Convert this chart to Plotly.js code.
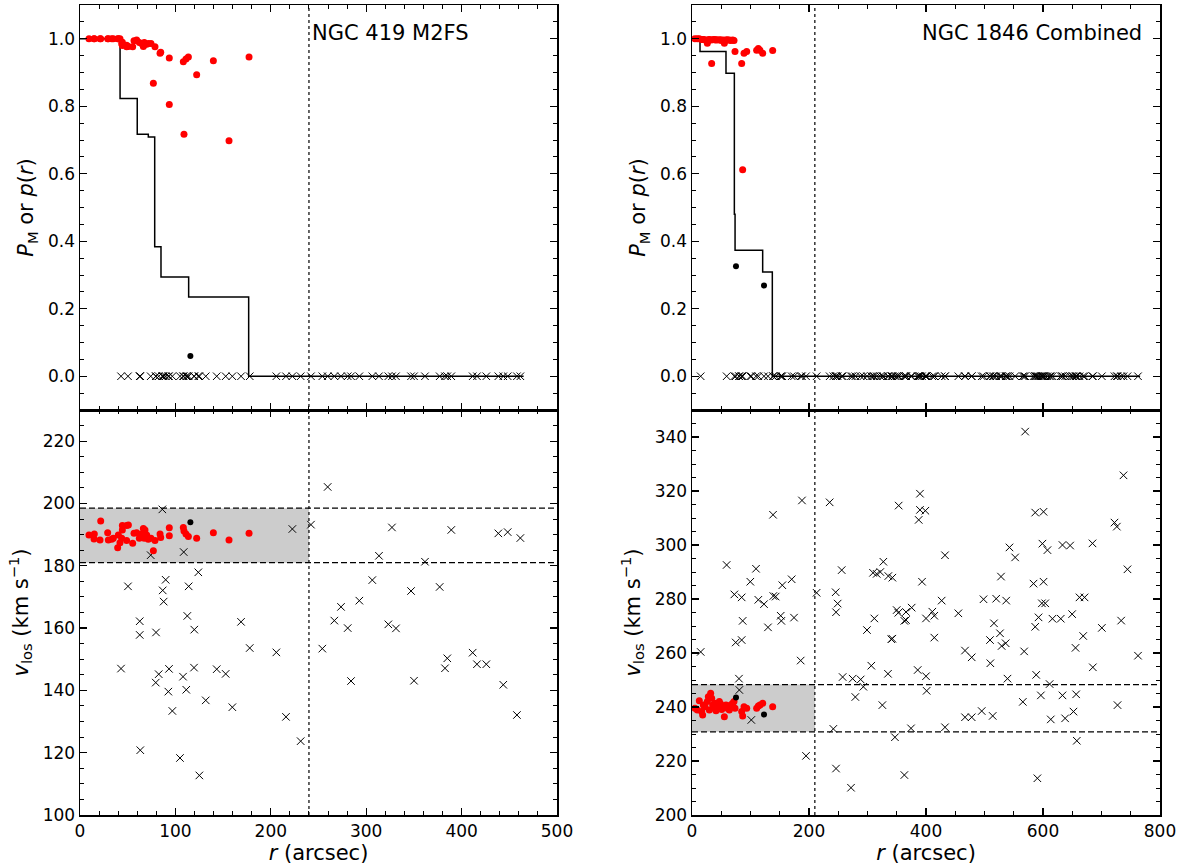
<!DOCTYPE html>
<html>
<head>
<meta charset="utf-8">
<script src="https://cdn.plot.ly/plotly-3.0.1.min.js"></script>
<style>html,body{margin:0;padding:0;background:#fff;}#plot{width:1189px;height:867px;}</style>
</head>
<body>
<div id="plot"></div>
<script>
// ---------------- NGC 419 M2FS ----------------
const n419_memR = [9.4,15.0,14.7,21.0,21.7,29.0,29.7,33.2,34.9,39.5,40.2,41.9,43.7,44.4,44.4,48.9,50.7,48.9,55.2,56.6,59.4,62.2,64.6,66.4,68.1,67.4,69.9,71.6,74.4,76.9,78.6,83.9,84.6,93.6,93.6,108.3,109.0,111.1,113.6,122.3,139.8,156.2,177.2];
const n419_memV = [189.9,190.2,188.6,188.3,194.4,190.6,188.3,188.5,188.8,185.8,189.9,187.4,188.8,191.5,192.9,192.9,193.1,188.1,187.2,190.4,190.6,188.8,190.2,192.0,191.5,188.8,189.9,188.5,188.8,184.8,188.1,190.2,189.1,192.2,189.6,192.3,191.2,190.2,189.4,188.8,190.6,188.3,190.4];
const n419_memP = [1.0,1.0,1.0,1.0,1.0,1.0,1.0,1.0,1.0,1.0,1.0,1.0,0.985,0.99,0.98,0.981,0.977,0.976,0.976,0.994,0.996,0.989,0.986,0.977,0.984,0.989,0.984,0.986,0.986,0.868,0.976,0.957,0.96,0.943,0.805,0.932,0.717,0.94,0.946,0.893,0.935,0.698,0.946];
const n419_blkR = [115.7];
const n419_blkV = [194.0];
const n419_blkP = [0.06];
const n419_nonR = [86.3,222.6,74.1,108.7,124.0,89.8,50.3,86.7,113.9,87.7,112.5,62.6,168.8,62.6,79.7,119.8,177.9,205.8,43.0,82.5,93.3,119.5,143.3,152.7,108.0,79.4,92.6,111.4,131.8,96.8,159.7,215.9,231.3,63.2,104.8,125.1,
  259.6,242.1,254.0,327.0,389.2,438.5,448.3,461.6,313.4,361.6,306.4,347.0,377.0,292.8,273.6,266.6,280.6,323.2,331.2,411.6,385.0,382.6,416.1,425.9,284.1,350.1,443.7,458.0];
const n419_nonV = [198.1,191.8,183.4,184.4,177.9,175.5,173.4,172.1,173.4,168.5,163.9,162.2,162.0,157.8,158.6,159.5,153.6,152.2,147.0,145.2,146.9,147.3,146.8,145.3,144.4,142.5,139.6,140.2,136.8,133.4,134.6,131.5,123.7,120.8,118.3,112.7,
  205.3,193.2,153.4,192.3,191.5,190.4,190.8,188.9,183.2,181.3,175.4,171.9,173.2,168.8,166.8,162.4,160.0,161.2,159.9,152.1,150.3,147.1,148.4,148.4,143.0,143.1,141.8,132.1];
const n419_stepR = [0,42,60,71.6,78.3,84.9,113.9,176.8,465];
const n419_stepP = [1.0,0.823,0.717,0.709,0.384,0.294,0.235,0.0,0.0];
const n419_band = [181.0,198.5];
const n419_rcut = 240;

// ---------------- NGC 1846 Combined ----------------
const n1846_memR = [5.1,9.1,12.5,16.5,18.2,19.4,22.2,26.2,27.9,29.6,31.9,33.6,35.3,37.6,39.3,41.0,43.3,46.7,49.0,50.7,53.6,55.3,58.1,60.4,63.8,66.1,69.5,71.8,73.5,84.9,86.6,88.9,93.5,110.5,113.4,116.2,120.8,137.9];
const n1846_memV = [239.5,238.9,242.3,238.3,237.0,240.7,240.1,242.0,243.8,238.9,245.1,243.2,240.7,239.5,241.4,238.6,240.1,242.0,241.1,239.1,240.1,236.4,240.7,239.5,238.9,240.7,241.4,242.0,239.5,238.3,236.7,240.1,239.5,239.5,240.4,240.7,241.4,240.1];
const n1846_memP = [1.0,1.0,1.0,0.998,0.998,0.998,0.997,0.987,0.997,0.998,0.996,0.927,0.997,0.998,0.997,0.996,0.997,0.996,0.997,0.995,0.996,0.987,0.996,0.997,0.996,0.995,0.996,0.995,0.962,0.927,0.612,0.957,0.962,0.966,0.971,0.966,0.957,0.965];
const n1846_blkR = [75.2,123.1];
const n1846_blkV = [243.5,237.2];
const n1846_blkP = [0.326,0.269];
const n1846_nonR = [14.8,59.2,109.4,99.7,72.4,84.9,113.4,123.1,139.0,143.0,154.4,170.4,138.5,188.0,235.3,213.0,245.6,249.0,246.2,255.9,86.6,74.7,84.9,129.9,151.6,152.7,174.4,185.8,80.3,80.9,101.4,194.9,241.6,246.2,271.8,257.5,274.6,288.3,292.9,279.2,306.5,299.1,311.7,309.4,315.7,321.9,327.1,335.6,342.5,353.3,335.0,325.4,346.9,363.0,374.4,340.7,342.5,349.9,352.7,363.0,365.8,365.8,375.5,387.5,389.7,389.7,398.9,393.2,385.8,400.0,400.0,401.1,
  432.5,426.8,410.8,414.2,414.2,455.3,432.5,466.7,478.1,495.2,466.7,478.1,514.0,498.3,520.0,537.1,510.0,509.4,516.2,526.5,529.3,536.2,528.2,539.3,542.7,552.4,565.5,567.8,569.5,583.8,600.9,586.7,600.9,598.1,603.8,592.4,586.7,588.4,596.4,611.3,590.4,599.0,607.6,613.3,637.8,652.1,633.3,656.7,657.8,616.2,630.4,649.8,668.7,655.6,633.3,646.4,684.6,662.4,671.0,685.2,700.6,722.2,726.2,737.6,744.4,733.6,727.4,762.4];
const n1846_nonV = [260.4,292.6,291.2,286.4,281.7,280.6,279.7,278.1,281.1,280.9,285.1,287.3,311.2,316.5,315.8,282.3,282.5,278.3,275.1,290.7,271.9,263.9,264.8,269.5,273.8,271.9,273.1,257.2,250.5,246.3,235.2,221.9,231.9,217.2,210.1,251.1,250.5,250.2,247.5,243.7,255.3,268.5,272.8,289.7,289.3,290.0,293.8,288.5,287.9,314.6,252.3,240.7,228.8,214.8,232.1,265.1,265.3,275.9,274.9,271.9,272.2,275.2,276.8,309.3,319.0,313.0,312.7,286.4,253.7,272.8,251.4,246.0,
  296.2,279.4,275.3,273.8,265.7,274.7,232.5,260.9,258.4,238.5,236.2,236.2,236.7,279.9,280.1,279.4,256.2,264.8,271.0,267.3,262.6,263.6,288.3,250.5,299.1,295.4,241.9,260.6,342.0,285.7,286.4,312.0,312.3,278.4,278.4,273.2,269.7,251.9,244.3,248.5,213.6,300.5,298.1,235.4,235.8,238.3,244.3,244.7,227.5,272.7,272.7,274.4,266.3,261.9,300.0,299.8,300.6,280.6,280.6,254.7,269.3,308.3,306.8,325.8,291.0,272.0,240.7,259.0];
const n1846_stepR = [0,13.7,58.1,72.4,73.6,120.8,137.3,766];
const n1846_stepP = [1.0,0.962,0.898,0.48,0.373,0.309,0.0,0.0];
const n1846_band = [230.8,248.3];
const n1846_rcut = 210;

// ---------------- traces ----------------
function panelTraces(xa, yaTop, yaBot, d) {
  const t = [];
  t.push({x: d.stepR, y: d.stepP, xaxis: xa[0], yaxis: yaTop, type: 'scatter', mode: 'lines',
    line: {color: 'black', width: 1.5, shape: 'hv'}, hoverinfo: 'skip'});
  t.push({x: d.nonR, y: d.nonR.map(() => 0), xaxis: xa[0], yaxis: yaTop, type: 'scatter', mode: 'markers',
    marker: {symbol: 'x-thin', size: 7.5, line: {color: 'black', width: 1}}});
  t.push({x: d.memR, y: d.memP, xaxis: xa[0], yaxis: yaTop, type: 'scatter', mode: 'markers',
    marker: {color: '#ff0000', size: 7}});
  t.push({x: d.blkR, y: d.blkP, xaxis: xa[0], yaxis: yaTop, type: 'scatter', mode: 'markers',
    marker: {color: 'black', size: 6}});
  t.push({x: d.nonR, y: d.nonV, xaxis: xa[1], yaxis: yaBot, type: 'scatter', mode: 'markers',
    marker: {symbol: 'x-thin', size: 7.5, line: {color: 'black', width: 1}}});
  t.push({x: d.memR, y: d.memV, xaxis: xa[1], yaxis: yaBot, type: 'scatter', mode: 'markers',
    marker: {color: '#ff0000', size: 7}});
  t.push({x: d.blkR, y: d.blkV, xaxis: xa[1], yaxis: yaBot, type: 'scatter', mode: 'markers',
    marker: {color: 'black', size: 6}});
  return t;
}
const data = [].concat(
  panelTraces(['x', 'x3'], 'y', 'y3', {stepR: n419_stepR, stepP: n419_stepP, nonR: n419_nonR, nonV: n419_nonV, memR: n419_memR, memV: n419_memV, memP: n419_memP, blkR: n419_blkR, blkV: n419_blkV, blkP: n419_blkP}),
  panelTraces(['x2', 'x4'], 'y2', 'y4', {stepR: n1846_stepR, stepP: n1846_stepP, nonR: n1846_nonR, nonV: n1846_nonV, memR: n1846_memR, memV: n1846_memV, memP: n1846_memP, blkR: n1846_blkR, blkV: n1846_blkV, blkP: n1846_blkP})
);

// ---------------- layout ----------------
const W = 1189, H = 867;
const colL = [80 / W, 557 / W], colR = [692 / W, 1160 / W];
const rowTop = [(H - 410) / H, (H - 5) / H], rowBot = [(H - 815) / H, (H - 410) / H];
const FONT = 'DejaVu Sans, Liberation Sans, sans-serif';

function ax(extra, minorDtick) {
  return Object.assign({
    showline: true, linecolor: 'black', linewidth: 1.5, mirror: 'ticks',
    ticks: 'inside', ticklen: 7, tickwidth: 1.2, tickcolor: 'black',
    showgrid: false, zeroline: false,
    tickfont: {family: FONT, size: 17, color: 'black'},
    minor: {ticks: 'inside', ticklen: 4, tickwidth: 1, tickcolor: 'black', dtick: minorDtick, showgrid: false}
  }, extra);
}
const titleFont = {family: FONT, size: 21, color: 'black'};
const pTitle = {text: '<i>P</i><sub>M</sub> or <i>p</i>(<i>r</i>)', font: titleFont, standoff: 8};
const vTitle = {text: '<i>v</i><sub>los</sub> (km s<sup>−1</sup>)', font: titleFont, standoff: 8};
const rTitle = {text: '<i>r</i> (arcsec)', font: titleFont, standoff: 2};

const layout = {
  width: W, height: H,
  margin: {l: 0, r: 0, t: 0, b: 0},
  paper_bgcolor: 'white', plot_bgcolor: 'white',
  showlegend: false,
  font: {family: FONT, color: 'black'},
  xaxis: ax({domain: colL, range: [0, 500], anchor: 'y', dtick: 100, tick0: 0, showticklabels: false}, 20),
  yaxis: ax({domain: rowTop, range: [-0.1, 1.1], anchor: 'x', dtick: 0.2, tick0: 0, tickformat: '.1f', title: pTitle}, 0.05),
  xaxis2: ax({domain: colR, range: [0, 800], anchor: 'y2', dtick: 200, tick0: 0, showticklabels: false}, 50),
  yaxis2: ax({domain: rowTop, range: [-0.1, 1.1], anchor: 'x2', dtick: 0.2, tick0: 0, tickformat: '.1f', title: pTitle}, 0.05),
  xaxis3: ax({domain: colL, range: [0, 500], anchor: 'y3', dtick: 100, tick0: 0, title: rTitle}, 20),
  yaxis3: ax({domain: rowBot, range: [100, 230], anchor: 'x3', dtick: 20, tick0: 0, title: vTitle}, 5),
  xaxis4: ax({domain: colR, range: [0, 800], anchor: 'y4', dtick: 200, tick0: 0, title: rTitle}, 50),
  yaxis4: ax({domain: rowBot, range: [200, 350], anchor: 'x4', dtick: 20, tick0: 0, title: vTitle}, 5),
  shapes: [
    {type: 'rect', xref: 'x3', yref: 'y3', x0: 0, x1: n419_rcut, y0: n419_band[0], y1: n419_band[1], fillcolor: '#cccccc', line: {width: 0}, layer: 'below'},
    {type: 'line', xref: 'x3 domain', yref: 'y3', x0: 0, x1: 1, y0: n419_band[0], y1: n419_band[0], line: {color: 'black', width: 1.3, dash: '6px,3px'}},
    {type: 'line', xref: 'x3 domain', yref: 'y3', x0: 0, x1: 1, y0: n419_band[1], y1: n419_band[1], line: {color: 'black', width: 1.3, dash: '6px,3px'}},
    {type: 'line', xref: 'x3', yref: 'paper', x0: n419_rcut, x1: n419_rcut, y0: rowBot[0], y1: rowTop[1], line: {color: 'black', width: 1.2, dash: 'dot'}},
    {type: 'rect', xref: 'x4', yref: 'y4', x0: 0, x1: n1846_rcut, y0: n1846_band[0], y1: n1846_band[1], fillcolor: '#cccccc', line: {width: 0}, layer: 'below'},
    {type: 'line', xref: 'x4 domain', yref: 'y4', x0: 0, x1: 1, y0: n1846_band[0], y1: n1846_band[0], line: {color: 'black', width: 1.3, dash: '6px,3px'}},
    {type: 'line', xref: 'x4 domain', yref: 'y4', x0: 0, x1: 1, y0: n1846_band[1], y1: n1846_band[1], line: {color: 'black', width: 1.3, dash: '6px,3px'}},
    {type: 'line', xref: 'x4', yref: 'paper', x0: n1846_rcut, x1: n1846_rcut, y0: rowBot[0], y1: rowTop[1], line: {color: 'black', width: 1.2, dash: 'dot'}}
  ],
  annotations: [
    {text: 'NGC 419 M2FS', xref: 'x', yref: 'y', x: 410, y: 1.018, xanchor: 'right', yanchor: 'middle', showarrow: false, font: {family: FONT, size: 21, color: 'black'}},
    {text: 'NGC 1846 Combined', xref: 'x2', yref: 'y2', x: 772, y: 1.018, xanchor: 'right', yanchor: 'middle', showarrow: false, font: {family: FONT, size: 21, color: 'black'}}
  ]
};

Plotly.newPlot('plot', data, layout, {staticPlot: true, displayModeBar: false});
</script>
</body>
</html>
